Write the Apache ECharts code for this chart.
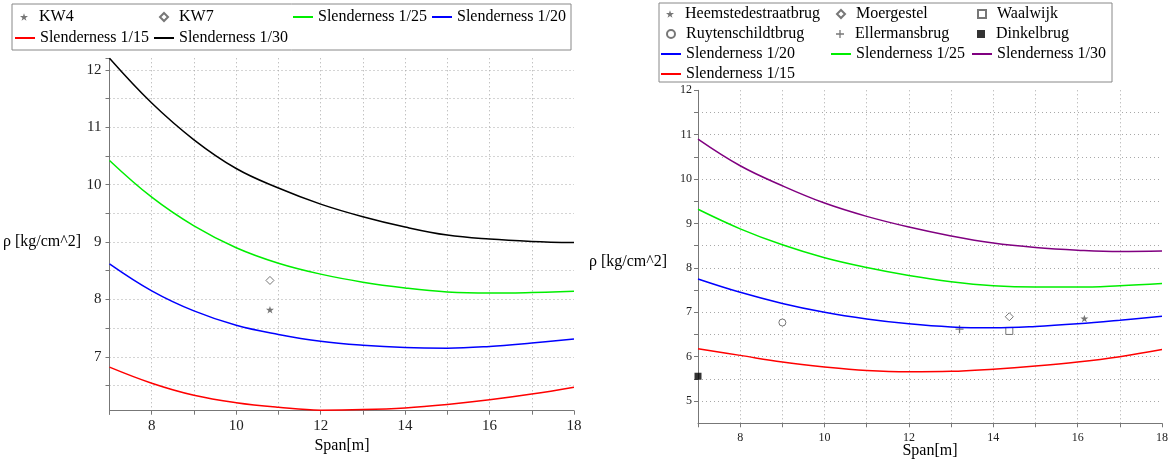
<!DOCTYPE html>
<html>
<head>
<meta charset="utf-8">
<script src="https://cdn.jsdelivr.net/npm/echarts@6/dist/echarts.min.js"></script>
<style>
  html, body { margin: 0; padding: 0; background: #fff; }
  #chart { width: 1171px; height: 467px; }
</style>
</head>
<body>
<div id="chart"></div>
<script>
// span values (x) shared by all curves
const spans = [7, 8, 9, 10, 11, 12, 13, 14, 15, 16, 17, 18];

// left chart: rho for each slenderness
const leftS15 = [6.82, 6.54, 6.33, 6.2, 6.12, 6.07, 6.08, 6.11, 6.17, 6.25, 6.35, 6.47];
const leftS20 = [8.62, 8.15, 7.8, 7.55, 7.39, 7.27, 7.2, 7.16, 7.15, 7.18, 7.24, 7.31];
const leftS25 = [10.42, 9.78, 9.28, 8.9, 8.63, 8.44, 8.3, 8.2, 8.13, 8.11, 8.12, 8.14];
const leftS30 = [12.2, 11.42, 10.78, 10.28, 9.94, 9.66, 9.44, 9.26, 9.12, 9.05, 9.01, 8.99];
const kw4 = [[10.8, 7.82]];
const kw7 = [[10.8, 8.33]];

// right chart: rho for each slenderness
const rightS15 = [6.18, 6.03, 5.88, 5.77, 5.69, 5.66, 5.67, 5.72, 5.79, 5.88, 6.0, 6.16];
const rightS20 = [7.75, 7.45, 7.2, 7.0, 6.85, 6.74, 6.67, 6.65, 6.68, 6.74, 6.82, 6.91];
const rightS25 = [9.32, 8.88, 8.52, 8.23, 8.01, 7.83, 7.69, 7.6, 7.57, 7.57, 7.6, 7.65];
const rightS30 = [10.9, 10.3, 9.85, 9.46, 9.16, 8.92, 8.72, 8.56, 8.46, 8.4, 8.37, 8.38];
const heemstede = [[16.16, 6.86]];
const moergestel = [[14.38, 6.9]];
const waalwijk = [[14.38, 6.58]];
const ruytenschildt = [[9.0, 6.77]];
const ellermans = [[13.2, 6.62]];
const dinkel = [[7.0, 5.56]];

const serif = 'Liberation Serif';
const starPath = 'path://M5,0L6.2,3.6L10,3.6L6.9,5.9L8.1,9.5L5,7.3L1.9,9.5L3.1,5.9L0,3.6L3.8,3.6Z';
const plusPath = 'path://M4.2,0h1.6v4.2h4.2v1.6h-4.2v4.2h-1.6v-4.2h-4.2v-1.6h4.2z';

const chartInstance = echarts.init(document.getElementById('chart'));

function pairs(ys) {
  return spans.map((s, i) => [s, ys[i]]);
}

function curve(name, ys, color, idx) {
  return {
    name: name,
    type: 'line',
    xAxisIndex: idx,
    yAxisIndex: idx,
    data: pairs(ys),
    smooth: 0.4,
    symbol: 'none',
    lineStyle: { color: color, width: 1.5 },
    itemStyle: { color: color }
  };
}

function marker(name, data, symbol, size, color, idx, filled) {
  return {
    name: name,
    type: 'scatter',
    xAxisIndex: idx,
    yAxisIndex: idx,
    data: data,
    symbol: symbol,
    symbolSize: size,
    symbolKeepAspect: true,
    clip: false,
    itemStyle: filled
      ? { color: color }
      : { color: '#fff', borderColor: color, borderWidth: 1 }
  };
}

// integer labels only
function intLabel(v) {
  return Math.abs(v - Math.round(v)) < 1e-6 ? String(Math.round(v)) : '';
}
function evenLabel(v) {
  return Math.round(v) % 2 === 0 ? String(Math.round(v)) : '';
}

const gridLine = { show: true, showMinLine: false, showMaxLine: false, lineStyle: { color: '#a8a8a8', type: [1, 3], width: 1 } };
const axisLine = { show: true, onZero: false, lineStyle: { color: '#777', width: 1 } };

function xAxis(idx, fontSize, margin, offset) {
  return {
    type: 'value',
    gridIndex: idx,
    min: 7,
    max: 18,
    interval: 1,
    offset: offset,
    axisLine: axisLine,
    axisTick: { show: true, length: 4, lineStyle: { color: '#777' } },
    axisLabel: { formatter: evenLabel, fontFamily: serif, fontSize: fontSize, color: '#222', margin: margin },
    splitLine: gridLine
  };
}

function yAxis(idx, min, max, fontSize, margin) {
  return {
    type: 'value',
    gridIndex: idx,
    min: min,
    max: max,
    interval: 0.5,
    axisLine: axisLine,
    axisTick: { show: true, length: 4, lineStyle: { color: '#777' } },
    axisLabel: { formatter: intLabel, fontFamily: serif, fontSize: fontSize, color: '#222', margin: margin, showMinLabel: false, showMaxLabel: true },
    splitLine: gridLine
  };
}

// one legend component per entry, so the columns line up like the original
// col = left edge of the 20px line icon of that column
function legendItem(name, col, top, isLine) {
  const item = { name: name };
  if (isLine) item.itemStyle = { opacity: 0 };
  return {
    orient: 'horizontal',
    left: isLine ? col : col + 6,
    top: top,
    padding: 0,
    itemWidth: isLine ? 20 : 8,
    itemHeight: isLine ? 12 : 8,
    selectedMode: false,
    textStyle: {
      fontFamily: serif, fontSize: 16, color: '#000', lineHeight: 20,
      padding: isLine ? 0 : [0, 0, 0, 6]
    },
    data: [item]
  };
}

const option = {
  animation: false,
  backgroundColor: '#fff',
  grid: [
    { left: 109.5, top: 58.3, width: 464.5, height: 355.9 },
    { left: 698, top: 90.3, width: 465, height: 333 }
  ],
  xAxis: [xAxis(0, 15, 8, -3.5), xAxis(1, 12, 9, 0)],
  yAxis: [yAxis(0, 6, 12.2, 15, 8), yAxis(1, 4.5, 12, 12, 6)],
  legend: [
    legendItem('KW4', 14, 7, false),
    legendItem('KW7', 153, 7, false),
    legendItem('Slenderness 1/25', 292, 7, true),
    legendItem('Slenderness 1/20', 431, 7, true),
    legendItem('Slenderness 1/15', 14, 28, true),
    legendItem('Slenderness 1/30', 153, 28, true),

    legendItem('Heemstedestraatbrug', 660, 4, false),
    legendItem('Moergestel', 830, 4, false),
    legendItem('Waalwijk', 971, 4, false),
    legendItem('Ruytenschildtbrug', 660, 24, false),
    legendItem('Ellermansbrug', 830, 24, false),
    legendItem('Dinkelbrug', 971, 24, false),
    legendItem('Slenderness 1/20 ', 660, 44, true),
    legendItem('Slenderness 1/25 ', 830, 44, true),
    legendItem('Slenderness 1/30 ', 971, 44, true),
    legendItem('Slenderness 1/15 ', 660, 64, true)
  ],
  graphic: [
    // legend frames
    { type: 'rect', shape: { x: 12, y: 4, width: 559, height: 46 }, style: { fill: 'none', stroke: '#888', lineWidth: 1 } },
    { type: 'rect', shape: { x: 659, y: 3, width: 453, height: 79 }, style: { fill: 'none', stroke: '#888', lineWidth: 1 } },
    // axis titles
    { type: 'text', x: 3, y: 242, style: { text: 'ρ [kg/cm^2]', font: '16px "Liberation Serif"', fill: '#000', textVerticalAlign: 'middle' } },
    { type: 'text', x: 589, y: 262, style: { text: 'ρ [kg/cm^2]', font: '16px "Liberation Serif"', fill: '#000', textVerticalAlign: 'middle' } },
    { type: 'text', x: 342, y: 446, style: { text: 'Span[m]', font: '16px "Liberation Serif"', fill: '#000', textAlign: 'center', textVerticalAlign: 'middle' } },
    { type: 'text', x: 930, y: 451, style: { text: 'Span[m]', font: '16px "Liberation Serif"', fill: '#000', textAlign: 'center', textVerticalAlign: 'middle' } }
  ],
  series: [
    marker('KW4', kw4, starPath, 8, '#555', 0, true),
    marker('KW7', kw7, 'diamond', 8, '#555', 0, false),
    curve('Slenderness 1/25', leftS25, '#00ee00', 0),
    curve('Slenderness 1/20', leftS20, '#0000ff', 0),
    curve('Slenderness 1/15', leftS15, '#ff0000', 0),
    curve('Slenderness 1/30', leftS30, '#000000', 0),

    marker('Heemstedestraatbrug', heemstede, starPath, 8, '#555', 1, true),
    marker('Moergestel', moergestel, 'diamond', 8, '#555', 1, false),
    marker('Waalwijk', waalwijk, 'rect', 7, '#555', 1, false),
    marker('Ruytenschildtbrug', ruytenschildt, 'circle', 7, '#555', 1, false),
    marker('Ellermansbrug', ellermans, plusPath, 8, '#555', 1, true),
    marker('Dinkelbrug', dinkel, 'rect', 7, '#000', 1, true),
    curve('Slenderness 1/20 ', rightS20, '#0000ff', 1),
    curve('Slenderness 1/25 ', rightS25, '#00ee00', 1),
    curve('Slenderness 1/30 ', rightS30, '#800080', 1),
    curve('Slenderness 1/15 ', rightS15, '#ff0000', 1)
  ]
};

chartInstance.setOption(option);
</script>
</body>
</html>
